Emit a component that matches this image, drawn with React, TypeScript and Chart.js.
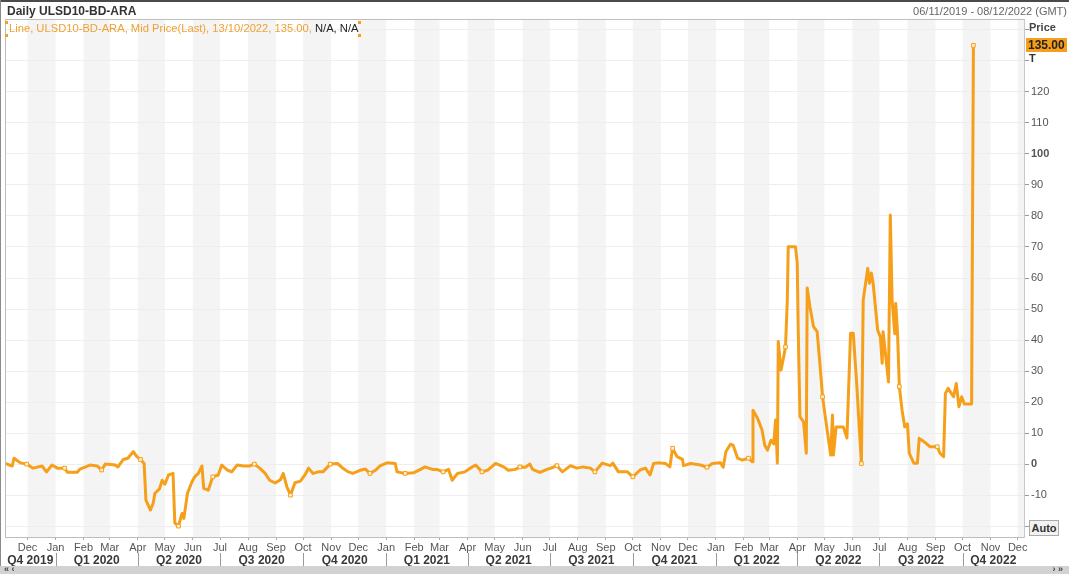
import React, { useEffect, useRef } from 'react';
import { Chart, registerables } from 'chart.js';

Chart.register(...registerables);

const FONT = '"Liberation Sans", Arial, sans-serif';
const ORANGE = '#F69F1A';

const rangeStart = '2019-11-06';
const rangeEnd = '2022-12-08';

const dates2019 = ['2019-11-06', '2019-11-14', '2019-11-16', '2019-11-23', '2019-11-30', '2019-12-07', '2019-12-17', '2019-12-22', '2019-12-28'];
const prices2019 = [0.2, -0.6, 1.9, 0.4, 0.0, -1.3, -0.6, -2.5, -0.3];

const dates2020 = [
  '2020-01-03', '2020-01-11', '2020-01-14', '2020-01-25', '2020-01-28', '2020-02-08', '2020-02-16', '2020-02-21', '2020-02-25',
  '2020-03-07', '2020-03-10', '2020-03-16', '2020-03-21', '2020-03-27', '2020-03-31', '2020-04-04', '2020-04-08', '2020-04-10',
  '2020-04-15', '2020-04-18', '2020-04-20', '2020-04-25', '2020-04-28', '2020-05-01', '2020-05-05', '2020-05-10', '2020-05-12',
  '2020-05-16', '2020-05-20', '2020-05-22', '2020-05-26', '2020-05-31', '2020-06-03', '2020-06-07', '2020-06-11', '2020-06-13',
  '2020-06-18', '2020-06-23', '2020-06-29', '2020-07-03', '2020-07-09', '2020-07-14', '2020-07-20', '2020-07-27', '2020-08-03',
  '2020-08-08', '2020-08-14', '2020-08-20', '2020-08-25', '2020-08-31', '2020-09-06', '2020-09-09', '2020-09-13', '2020-09-17',
  '2020-09-22', '2020-09-28', '2020-10-03', '2020-10-07', '2020-10-12', '2020-10-18', '2020-10-23', '2020-10-31', '2020-11-08',
  '2020-11-14', '2020-11-20', '2020-11-25', '2020-12-03', '2020-12-09', '2020-12-14', '2020-12-20', '2020-12-25',
];
const prices2020 = [
  -1.3, -1.3, -2.6, -2.6, -1.6, -0.3, -0.6, -1.9, 0.0,
  -0.3, -0.9, 1.5, 1.9, 4.0, 2.4, 1.5, 0.2, -11.6,
  -14.8, -12.6, -9.4, -8.0, -5.2, -6.5, -3.5, -3.0, -19.0,
  -20.0, -15.9, -17.5, -9.4, -5.7, -4.1, -3.0, -0.6, -7.8,
  -8.4, -4.1, -3.5, -0.3, -1.9, -2.5, -0.3, -0.6, -0.6,
  0.0, -1.3, -3.0, -5.2, -6.1, -5.0, -3.0, -7.3, -10.0,
  -6.0, -5.5, -3.5, -1.3, -3.0, -2.5, -2.5, 0.0, 0.2,
  -1.3, -2.5, -3.0, -2.0, -1.6, -3.0, -2.0, -0.6,
];

const dates2021 = [
  '2021-01-02', '2021-01-11', '2021-01-13', '2021-01-22', '2021-01-31', '2021-02-08', '2021-02-13', '2021-02-21', '2021-02-26',
  '2021-03-05', '2021-03-11', '2021-03-15', '2021-03-21', '2021-03-29', '2021-04-04', '2021-04-10', '2021-04-17', '2021-04-23',
  '2021-05-02', '2021-05-11', '2021-05-16', '2021-05-24', '2021-05-29', '2021-06-04', '2021-06-09', '2021-06-12', '2021-06-20',
  '2021-06-28', '2021-07-05', '2021-07-09', '2021-07-15', '2021-07-24', '2021-07-31', '2021-08-07', '2021-08-15', '2021-08-20',
  '2021-08-28', '2021-09-06', '2021-09-09', '2021-09-15', '2021-09-25', '2021-10-01', '2021-10-09', '2021-10-15', '2021-10-20',
  '2021-10-24', '2021-10-31', '2021-11-06', '2021-11-11', '2021-11-14', '2021-11-19', '2021-11-25', '2021-11-26', '2021-12-04',
  '2021-12-15', '2021-12-22', '2021-12-28',
];
const prices2021 = [
  0.4, 0.2, -2.5, -3.0, -2.8, -1.7, -0.9, -1.7, -1.7,
  -2.5, -1.7, -5.2, -3.0, -2.5, -1.3, -0.3, -2.5, -2.0,
  0.2, -0.9, -2.0, -1.7, -0.9, -1.0, 0.0, -1.7, -2.7,
  -1.7, -1.0, -0.5, -2.5, -0.5, -1.3, -0.9, -1.3, -2.5,
  0.3, -0.5, 0.3, -2.5, -2.5, -4.1, -1.9, -1.3, -3.5,
  0.2, 0.4, 0.2, -0.9, 5.1, 2.4, 1.5, -0.5, 0.2,
  -0.3, -1.0, 0.2,
];

const dates2022 = [
  '2022-01-06', '2022-01-09', '2022-01-12', '2022-01-17', '2022-01-20', '2022-01-25', '2022-01-30', '2022-02-06', '2022-02-10',
  '2022-02-11', '2022-02-16', '2022-02-18', '2022-02-21', '2022-02-24', '2022-02-27', '2022-03-03', '2022-03-06', '2022-03-08',
  '2022-03-10', '2022-03-11', '2022-03-14', '2022-03-17', '2022-03-19', '2022-03-21', '2022-03-22', '2022-03-30', '2022-04-01',
  '2022-04-02', '2022-04-04', '2022-04-08', '2022-04-11', '2022-04-12', '2022-04-15', '2022-04-19', '2022-04-23', '2022-04-26',
  '2022-04-29', '2022-05-02', '2022-05-08', '2022-05-10', '2022-05-11', '2022-05-14', '2022-05-22', '2022-05-26', '2022-05-30',
  '2022-06-02', '2022-06-06', '2022-06-09', '2022-06-11', '2022-06-13', '2022-06-18', '2022-06-20', '2022-06-22', '2022-06-24',
  '2022-06-29', '2022-07-02', '2022-07-04', '2022-07-05', '2022-07-08', '2022-07-11', '2022-07-13', '2022-07-15', '2022-07-18',
  '2022-07-19', '2022-07-21', '2022-07-23', '2022-07-26', '2022-07-29', '2022-08-01', '2022-08-03', '2022-08-08', '2022-08-12',
  '2022-08-14', '2022-08-19', '2022-08-26', '2022-09-03', '2022-09-06', '2022-09-10', '2022-09-12', '2022-09-15', '2022-09-21',
  '2022-09-24', '2022-09-27', '2022-09-30', '2022-10-03', '2022-10-11', '2022-10-12', '2022-10-13',
];
const prices2022 = [
  0.4, -1.0, 4.0, 6.4, 6.1, 1.9, 1.3, 1.9, 0.8,
  17.4, 14.8, 13.3, 11.0, 6.1, 4.5, 7.7, 6.5, 14.2,
  0.3, 39.5, 30.3, 34.6, 37.8, 52.9, 70.1, 70.1, 64.8,
  44.3, 15.3, 13.6, 3.5, 56.8, 50.8, 44.3, 42.7, 32.6,
  21.7, 15.3, 2.9, 15.8, 2.9, 12.0, 12.0, 8.4, 42.2,
  42.2, 25.0, 10.0, 0.2, 52.9, 63.1, 58.3, 61.6, 58.3,
  43.2, 41.0, 32.5, 42.7, 34.6, 26.5, 80.3, 52.9, 42.0,
  51.8, 42.3, 25.0, 17.4, 12.0, 13.0, 3.5, 0.3, 0.3,
  8.3, 7.3, 5.6, 5.6, 3.5, 2.4, 22.8, 24.4, 21.7,
  26.0, 18.5, 21.7, 19.4, 19.4, 77.7, 135.0,
];

const markerDates = [
  '2019-11-30', '2020-01-11', '2020-02-21', '2020-04-04', '2020-05-16', '2020-06-23', '2020-08-08', '2020-09-17', '2020-10-31',
  '2020-12-14', '2021-01-22', '2021-03-05', '2021-04-17', '2021-05-29', '2021-07-09', '2021-08-20', '2021-10-01', '2021-11-14',
  '2021-12-22', '2022-02-06', '2022-03-19', '2022-04-29', '2022-06-11', '2022-07-23', '2022-09-03', '2022-10-13',
];

const monthNames = ['Jan', 'Feb', 'Mar', 'Apr', 'May', 'Jun', 'Jul', 'Aug', 'Sep', 'Oct', 'Nov', 'Dec'];
const yTickValues = [-20, -10, 0, 10, 20, 30, 40, 50, 60, 70, 80, 90, 100, 110, 120, 130, 140];
const yLabelMin = -10;
const yLabelMax = 120;
const yBoldTicks = [0, 100];
const yMin = -23.5;
const yMax = 143.5;

const DAY = 86400000;
const parse = (s: string) => {
  const [y, m, d] = s.split('-').map(Number);
  return Date.UTC(y, m - 1, d);
};
const startMs = parse(rangeStart);
const toDay = (s: string) => (parse(s) - startMs) / DAY;
const maxDay = toDay(rangeEnd);

type Span = { start: number; end: number; month: number; year: number };
function buildSpans(stepMonths: number, firstYear: number, firstMonth: number): Span[] {
  const out: Span[] = [];
  let y = firstYear;
  let m = firstMonth;
  for (;;) {
    const start = (Date.UTC(y, m, 1) - startMs) / DAY;
    if (start > maxDay) break;
    let nm = m + stepMonths;
    let ny = y;
    while (nm > 11) { nm -= 12; ny += 1; }
    const end = (Date.UTC(ny, nm, 1) - startMs) / DAY;
    out.push({ start, end, month: m, year: y });
    y = ny;
    m = nm;
  }
  return out;
}
const months = buildSpans(1, 2019, 10);
const quarters = buildSpans(3, 2019, 9);
const monthTicks = months.filter((s) => s.start >= 0 && s.start <= maxDay);

const allDates = [...dates2019, ...dates2020, ...dates2021, ...dates2022];
const allPrices = [...prices2019, ...prices2020, ...prices2021, ...prices2022];
const markerSet = new Set(markerDates);

const bandsPlugin = {
  id: 'bands',
  beforeDraw(chart: any) {
    const { ctx, chartArea: a, scales } = chart;
    const x = scales.x;
    ctx.save();
    ctx.fillStyle = '#ffffff';
    ctx.fillRect(0, 0, chart.width, chart.height);
    ctx.fillStyle = '#f4f4f4';
    months.forEach((s) => {
      if ((s.month + 1) % 2 !== 0) return;
      const l = x.getPixelForValue(Math.max(s.start, 0));
      const r = x.getPixelForValue(Math.min(s.end, maxDay));
      if (r <= l) return;
      ctx.fillRect(l, a.top, r - l, a.bottom - a.top);
    });
    ctx.restore();
  },
  afterDraw(chart: any) {
    const { ctx, chartArea: a, scales } = chart;
    const x = scales.x;
    ctx.save();
    ctx.strokeStyle = '#bdbdbd';
    ctx.lineWidth = 1;
    ctx.beginPath();
    ctx.moveTo(a.left + 0.5, a.top);
    ctx.lineTo(a.left + 0.5, a.bottom);
    ctx.moveTo(a.left, a.top + 0.5);
    ctx.lineTo(a.right, a.top + 0.5);
    ctx.moveTo(a.left, a.bottom + 0.5);
    ctx.lineTo(a.right, a.bottom + 0.5);
    ctx.stroke();
    ctx.font = `bold 12px ${FONT}`;
    ctx.fillStyle = '#3a3a3a';
    ctx.textAlign = 'center';
    ctx.textBaseline = 'middle';
    quarters.forEach((q) => {
      const s = Math.max(q.start, 0);
      const e = Math.min(q.end, maxDay);
      const l = x.getPixelForValue(s);
      const r = x.getPixelForValue(e);
      const qn = Math.floor(q.month / 3) + 1;
      ctx.fillText(`Q${qn} ${q.year}`, (l + r) / 2, 561);
      if (q.start > 0) {
        ctx.strokeStyle = '#9a9a9a';
        ctx.beginPath();
        ctx.moveTo(Math.round(l) + 0.5, 553);
        ctx.lineTo(Math.round(l) + 0.5, 567);
        ctx.stroke();
      }
    });
    ctx.restore();
  },
};

export default function App() {
  const ref = useRef<HTMLCanvasElement | null>(null);

  useEffect(() => {
    document.body.style.margin = '0';
    if (!ref.current) return;
    const points = allDates.map((d, i) => ({ x: toDay(d), y: allPrices[i] }));
    const chart = new Chart(ref.current, {
      type: 'line',
      data: {
        datasets: [
          {
            data: points,
            borderColor: ORANGE,
            borderWidth: 3,
            borderJoinStyle: 'round',
            tension: 0,
            pointStyle: 'rect',
            pointRadius: (c: any) => (markerSet.has(allDates[c.dataIndex]) ? 2.6 : 0),
            pointBackgroundColor: '#fff3da',
            pointBorderColor: ORANGE,
            pointBorderWidth: 1,
          } as any,
        ],
      },
      options: {
        animation: false,
        responsive: false,
        devicePixelRatio: 1,
        layout: { padding: { top: 19, left: 5, right: 0, bottom: 0 } },
        plugins: { legend: { display: false }, tooltip: { enabled: false }, title: { display: false } },
        scales: {
          x: {
            type: 'linear',
            min: 0,
            max: maxDay,
            afterBuildTicks: (s: any) => {
              s.ticks = monthTicks.map((m) => ({ value: m.start }));
            },
            afterFit: (s: any) => {
              s.height = 37;
            },
            ticks: {
              autoSkip: false,
              maxRotation: 0,
              padding: 1,
              color: '#555',
              font: { family: FONT, size: 11 },
              callback: (v: any) => {
                const m = monthTicks.find((t) => Math.abs(t.start - Number(v)) < 0.01);
                return m ? monthNames[m.month] : '';
              },
            },
            grid: { drawOnChartArea: false, tickLength: 3, tickColor: '#aaa' },
            border: { display: false },
          },
          y: {
            type: 'linear',
            position: 'right',
            min: yMin,
            max: yMax,
            afterBuildTicks: (s: any) => {
              s.ticks = yTickValues.map((v) => ({ value: v }));
            },
            afterFit: (s: any) => {
              s.width = 45;
            },
            ticks: {
              padding: 2,
              color: '#555',
              font: (c: any) => ({
                family: FONT,
                size: 11,
                weight: c.tick && yBoldTicks.includes(c.tick.value) ? 'bold' : 'normal',
              }),
              callback: (v: any) => (Number(v) >= yLabelMin && Number(v) <= yLabelMax ? String(v) : ''),
            },
            grid: { color: '#eeeeee', tickColor: '#999', tickLength: 5 },
            border: { display: true, color: '#c8c8c8' },
          },
        },
      },
      plugins: [bandsPlugin],
    });
    return () => chart.destroy();
  }, []);

  const sq = (left: number, top: number) => (
    <div style={{ position: 'absolute', left, top, width: 3, height: 3, background: ORANGE }} />
  );

  return (
    <div style={{ position: 'fixed', left: 0, top: 0, width: 1069, height: 574, overflow: 'hidden', background: '#fff', fontFamily: FONT }}>
      <canvas ref={ref} width={1069} height={574} style={{ position: 'absolute', left: 0, top: 0, width: 1069, height: 574 }} />
      <div style={{ position: 'absolute', left: 0, top: 0, width: 1069, height: 2, background: '#4a4a4a' }} />
      <div style={{ position: 'absolute', left: 0, top: 0, width: 1, height: 566, background: '#8a8a8a' }} />
      <div style={{ position: 'absolute', left: 7, top: 4, fontSize: 12, fontWeight: 'bold', color: '#333', whiteSpace: 'nowrap', lineHeight: '14px' }}>
        Daily ULSD10-BD-ARA
      </div>
      <div style={{ position: 'absolute', right: 2, top: 4, fontSize: 11, color: '#666', whiteSpace: 'nowrap', lineHeight: '14px' }}>
        06/11/2019 - 08/12/2022 (GMT)
      </div>
      <div style={{ position: 'absolute', left: 9, top: 22, fontSize: 11.2, whiteSpace: 'nowrap', lineHeight: '13px' }}>
        <span style={{ color: '#F0A030' }}>Line, ULSD10-BD-ARA, Mid Price(Last), 13/10/2022, 135.00, </span>
        <span style={{ color: '#222' }}>N/A, N/A</span>
      </div>
      {sq(5, 21)}
      {sq(5, 34)}
      {sq(358, 21)}
      {sq(358, 34)}
      <div style={{ position: 'absolute', left: 1029, top: 21, fontSize: 11, fontWeight: 'bold', color: '#444', lineHeight: '13px' }}>Price</div>
      <div style={{ position: 'absolute', left: 1026, top: 38, width: 41, height: 14, background: ORANGE, fontSize: 12, fontWeight: 'bold', color: '#222', lineHeight: '14px', paddingLeft: 2, boxSizing: 'border-box' }}>
        135.00
      </div>
      <div style={{ position: 'absolute', left: 1029, top: 52, fontSize: 11, fontWeight: 'bold', color: '#333', lineHeight: '13px' }}>T</div>
      <div style={{ position: 'absolute', left: 1029, top: 520, width: 30, height: 16, border: '1px solid #aaa', background: '#f2f2f2', boxSizing: 'border-box', fontSize: 11, fontWeight: 'bold', color: '#333', lineHeight: '14px', textAlign: 'center' }}>
        Auto
      </div>
      <div style={{ position: 'absolute', left: 0, top: 566, width: 1069, height: 8, background: '#d2d2d2' }}>
        <span style={{ position: 'absolute', left: 4, top: -2, fontSize: 9, fontWeight: 'bold', color: '#444', lineHeight: '10px' }}>« ‹</span>
        <span style={{ position: 'absolute', right: 6, top: -2, fontSize: 9, fontWeight: 'bold', color: '#444', lineHeight: '10px' }}>› »</span>
      </div>
    </div>
  );
}
